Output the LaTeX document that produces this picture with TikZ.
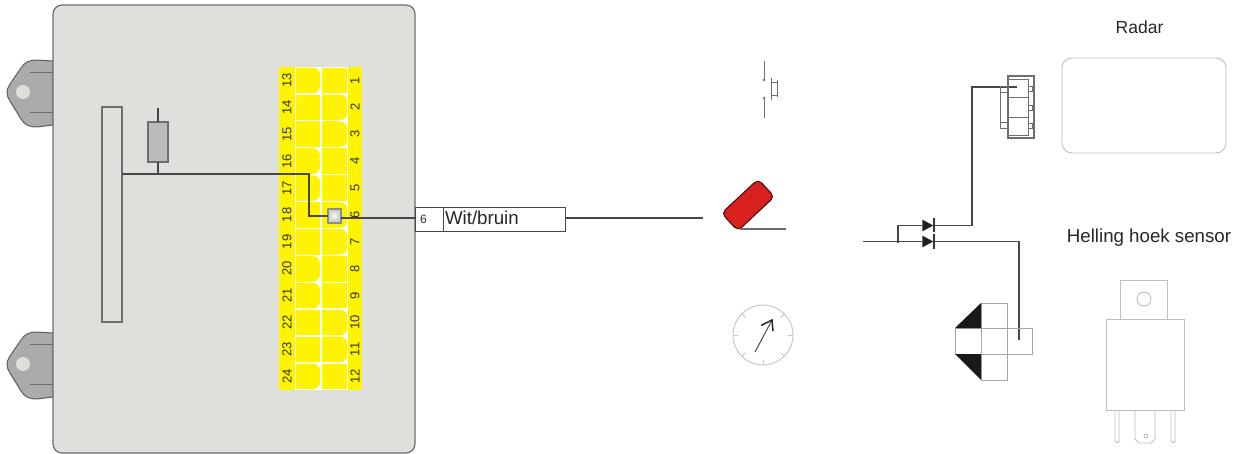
\documentclass[tikz,border=0pt]{standalone}
\usepackage{fontspec}
\setmainfont{Liberation Sans}
\usetikzlibrary{arrows.meta}
\definecolor{housing}{HTML}{DFE0DC}
\definecolor{edge}{HTML}{6E6E6E}
\definecolor{wirec}{HTML}{474747}
\definecolor{lugc}{HTML}{ABABAB}
\definecolor{pale}{HTML}{BDBDBD}
\definecolor{cellc}{HTML}{FFF400}
\definecolor{redc}{HTML}{D8211F}
\def\sideL{L}
\tikzset{
  box/.style={draw=#1,inner sep=0pt,outer sep=0pt,line width=.9pt},
  wire/.style={draw=wirec,line width=1.1pt},
  pale line/.style={draw=pale,line width=.9pt},
  lbl/.style={inner sep=0pt,outer sep=0pt,text=black!85,font=\fontsize{18.7}{20}\selectfont},
  pinno/.style={inner sep=0pt,outer sep=0pt,rotate=90,text=black!80,font=\fontsize{13}{14}\selectfont},
  lug/.style={draw=edge!85!black,fill=lugc,line width=1pt},
}
\begin{document}
\begin{tikzpicture}[x=1pt,y=-1pt]
\useasboundingbox (0,0) rectangle (1238,454);
% lugs
\foreach \d in {0,272}{
  \begin{scope}[yshift=-\d pt]
  \draw[lug] (53,61) -- (37,60) .. controls (29,60) and (25,62) .. (21,68) -- (10,84) .. controls (6,90) and (6,95) .. (10,101) -- (21,119) .. controls (25,125) and (29,127) .. (37,127) -- (53,125) -- cycle;
  \fill[housing] (23,92) circle (7);
  \draw[edge,line width=.8pt] (30,72) -- (53,72) (30,112) -- (53,112);
  \end{scope}
}
% housing
\node[box=edge,fill=housing,minimum width=362pt,minimum height=448pt,rounded corners=9pt,line width=1.2pt] (housing) at (234,229) {};
% connector block
\fill[cellc] (279,67) rectangle (362,390);
\fill[white] (294.5,67) rectangle (348,390);
\foreach \r/\s [count=\i from 0] in {1/L,2/R,3/R,4/L,5/L,6/R,7/R,8/L,9/L,10/R,11/R,12/L}{
  \pgfmathsetmacro{\ya}{67+26.9*\i+.7}
  \pgfmathsetmacro{\yb}{67+26.9*(\i+1)-.7}
  \ifx\s\sideL
    \fill[cellc,rounded corners=7pt] (296,\ya) -- (320,\ya) -- (320,\yb) -- (296,\yb) [sharp corners] -- cycle;
    \fill[cellc] (296,\ya) rectangle (310,\yb);
    \fill[cellc] (322,\ya) rectangle (347.2,\yb);
  \else
    \fill[cellc] (296,\ya) rectangle (320,\yb);
    \fill[cellc,rounded corners=7pt] (322,\ya) -- (347.2,\ya) -- (347.2,\yb) -- (322,\yb) [sharp corners] -- cycle;
    \fill[cellc] (322,\ya) rectangle (335,\yb);
  \fi
  \pgfmathtruncatemacro{\q}{\r+12}
  \pgfmathsetmacro{\yc}{67+26.9*\i+13.4}
  \node[pinno] (pa\r) at (287,\yc) {\q};
  \node[pinno] (pb\r) at (355,\yc) {\r};
}
% bar and fuse
\node[box=edge,minimum width=20pt,minimum height=215pt,line width=1.1pt] (bar) at (112,214.5) {};
\node[box=edge,fill=lugc!70!housing,minimum width=20pt,minimum height=40pt,line width=1.2pt] (fuse) at (158,142) {};
\coordinate (fusetop) at (158,108);
\coordinate (barout) at (122,174);
\coordinate (fusej) at (158,174);
\coordinate (turn) at (309,174);
\coordinate (turnb) at (309,216);
\coordinate (spliceout) at (341,218);
\coordinate (wireend) at (703,218);
\draw[wire] (fuse.north) -- (fusetop);
\draw[wire] (fuse.south) -- (fusej);
% splice
\node[box=black!45,fill=black!18,minimum width=13pt,minimum height=14pt,line width=1.2pt] (splice) at (334.5,216) {};
\fill[white,opacity=.6] (334.5,216) circle (3.5);
\draw[wire] (barout) -- (turn) -- (turnb) -- (splice.west);
% label box
\node[box=wirec,minimum width=28pt,minimum height=24pt,font=\fontsize{12}{14}\selectfont,text=black!80] (pin) at (429,219) {\hspace{-11pt}6};
\node[box=wirec,minimum width=122pt,minimum height=24pt,anchor=west] (colour) at (pin.east) {};
\node[lbl,anchor=west] (colourtext) at (445,218) {Wit/bruin};
\draw[wire] (spliceout) -- (pin.west |- spliceout);
\draw[wire] (colour.east |- wireend) -- (wireend);
% push button
\coordinate (swa) at (764,61); \coordinate (swb) at (764,80);
\coordinate (swc) at (764,98); \coordinate (swd) at (764,118);
\draw[edge,line width=1pt] (swa) -- (swb) (swc) -- (swd);
\fill[edge] (swb) circle (1.4) (swc) circle (1.4);
\draw[edge,line width=.9pt] (771,78) -- (771,100) (771,82) -- (778,82) (771,95) -- (778,95) (777.5,80) -- (777.5,97);
% red switch
\node[draw=black!70!redc,fill=redc,rounded corners=5pt,minimum width=50pt,minimum height=24pt,line width=1pt,rotate=43,inner sep=0pt] (red) at (748,205) {};
\coordinate (reda) at (740,229); \coordinate (redb) at (786,229);
\draw[edge,line width=1.1pt] (reda) -- (redb);
% gauge
\node[draw=black!22,circle,minimum size=60pt,inner sep=0pt,line width=1pt] (gauge) at (763,335) {};
\foreach \a in {0,45,90,135,180,225,315}{
  \draw[black!22,line width=.8pt] (gauge.center) ++(\a:30) -- ++(\a+180:5);
}
\coordinate (needlea) at (755,352); \coordinate (needleb) at (772,320);
\draw[black!70,line width=1pt] (needlea) -- (needleb);
\draw[black!85,line width=1.5pt] (761,325.5) -- (772,320) -- (773,331);
% diodes and main wires
\coordinate (mainin) at (863,241.5);
\coordinate (junction) at (898,241.5);
\coordinate (up) at (898,225.5);
\coordinate (da) at (923,225.5);
\coordinate (db) at (923,241.5);
\coordinate (ua) at (972,225.5);
\coordinate (ub) at (972,87);
\coordinate (uc) at (1017,87);
\coordinate (la) at (1019,241.5);
\coordinate (lb) at (1019,340);
\draw[wire] (mainin) -- (la) -- (lb);
\draw[wire] (junction) -- (up) -- (ua) -- (ub) -- (uc);
\fill[wirec] (junction) circle (1.8);
\foreach \c in {da,db}{
  \fill[black!88,draw=white,line width=.5pt] (\c) ++(-1,-6.5) -- ++(12,6.5) -- ++(-12,6.5) -- cycle;
  \draw[black!80,line width=1.2pt] (\c) ++(11,-7) -- ++(0,14);
}
% top connector
\node[box=edge,minimum width=26pt,minimum height=62pt,line width=1.1pt] (plug) at (1021,107) {};
\draw[edge,line width=.9pt] (1008,79) -- (1028,79) -- (1028,135) -- (1008,135);
\draw[edge,line width=.9pt] (1008,97) -- (1028,97) (1008,117) -- (1028,117);
\draw[edge,line width=.9pt] (1008,86) -- (1000.5,86) -- (1000.5,128) -- (1008,128);
\draw[edge,line width=.9pt] (1000.5,92) -- (1008,92) (1000.5,122) -- (1008,122);
\foreach \y in {86,105,123}{ \draw[edge,line width=.8pt] (1028,\y) rectangle (1032,\y+5); }
% cross-shaped lamp
\node[draw=black!35,minimum width=26pt,minimum height=77pt,inner sep=0pt,line width=.9pt] (lampv) at (994,341.5) {};
\node[draw=black!35,minimum width=77pt,minimum height=26pt,inner sep=0pt,line width=.9pt] (lamph) at (993.5,341) {};
\fill[black!90] (955,328) -- (981,303) -- (981,328) -- cycle;
\fill[black!90] (955,354) -- (981,354) -- (981,380) -- cycle;
% radar
\node[draw=pale,minimum width=164pt,minimum height=95pt,rounded corners=10pt,inner sep=0pt,line width=.9pt] (radar) at (1144,105.5) {};
\node[lbl,font=\fontsize{17.5}{20}\selectfont] (radarlabel) at (1139.5,27) {Radar};
\node[lbl] (helling) at (1149,238) {Helling hoek sensor};
% relay
\node[draw=pale,minimum width=47pt,minimum height=39pt,inner sep=0pt,line width=.9pt] (tab) at (1143.5,299.5) {};
\node[draw=pale,circle,minimum size=14pt,inner sep=0pt,line width=.9pt] (hole) at (1144,299) {};
\node[draw=pale,minimum width=78pt,minimum height=91pt,inner sep=0pt,line width=.9pt] (relay) at (1145,364.5) {};
\draw[pale line] (1115,410) -- (1115,441) -- (1116,442.5) -- (1118,442.5) -- (1119,441) -- (1119,410);
\draw[pale line] (1171,410) -- (1171,441) -- (1172,442.5) -- (1174,442.5) -- (1175,441) -- (1175,410);
\draw[pale line] (1135,410) -- (1135,439) -- (1139,443) -- (1151,443) -- (1155,439) -- (1155,410);
\draw[pale line] (1146,436) circle (2);
\end{tikzpicture}
\end{document}
